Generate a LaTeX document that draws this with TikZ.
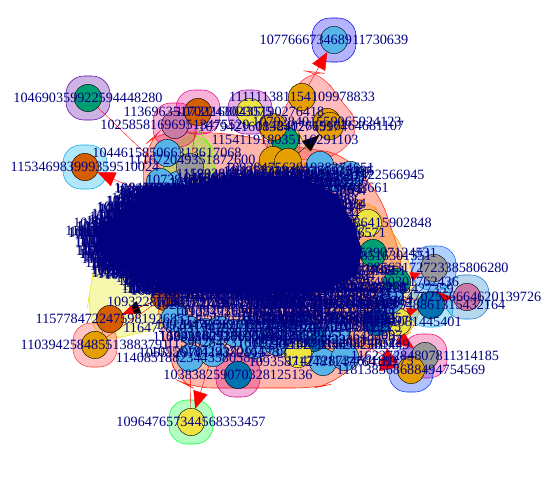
\documentclass[tikz,border=0pt]{standalone}
\usepackage{fontspec}
\setmainfont{Liberation Serif}
\usetikzlibrary{arrows.meta}
\pgfdeclarelayer{blobs}\pgfdeclarelayer{edgesl}\pgfdeclarelayer{labs}
\pgfsetlayers{blobs,edgesl,main,labs}
\definecolor{okO}{HTML}{E69F00}\definecolor{okB}{HTML}{56B4E9}\definecolor{okG}{HTML}{009E73}
\definecolor{okY}{HTML}{F0E442}\definecolor{okD}{HTML}{0072B2}\definecolor{okR}{HTML}{D55E00}
\definecolor{okM}{HTML}{CC79A7}\definecolor{okK}{HTML}{999999}\definecolor{lab}{HTML}{000080}
\tikzset{
 vtx/.style={circle,draw=black,line width=.3pt,fill=#1,minimum size=20.5pt,inner sep=0pt},
 vlab/.style={text=lab,inner sep=0pt,font=\fontsize{10.65}{12}\selectfont},
 blobn/.style={rectangle,rounded corners=13.5pt,minimum size=33pt,inner sep=0pt,draw=#1,line width=.4pt,fill=#1,fill opacity=.3},
 bigb/.style={draw=#1,line width=.4pt,fill=#1,fill opacity=.33,rounded corners=14pt},
 redline/.style={draw=red,line width=.3pt},
 redarr/.style={draw=red,line width=.3pt,-{Triangle[length=13pt,width=11pt,fill=red]}},
 redsm/.style={draw=red,line width=.3pt,-{Triangle[length=8pt,width=7pt,fill=red]}},
 blkarr/.style={draw=black,line width=.3pt,-{Triangle[length=13pt,width=10pt,fill=black]}},
 blksm/.style={draw=black,line width=.3pt,-{Triangle[length=8pt,width=6pt,fill=black]}},
}
\newcommand\VV[5]{\node[vtx=#4] (#1) at (#2,#3) {};%
 \begin{pgfonlayer}{labs}\node[vlab] (#1l) at (#2,#3) {#5};\end{pgfonlayer}}
\newcommand\VN[4]{\node[vtx=#4] (#1) at (#2,#3) {};}
\newcommand\LL[4]{\begin{pgfonlayer}{labs}\node[vlab] (#1) at (#2,#3) {#4};\end{pgfonlayer}}
\newcommand\BB[4]{\begin{pgfonlayer}{blobs}\node[blobn=#4] (#1) at (#2,#3) {};\end{pgfonlayer}}
\newcommand\digs[1]{\ifcase#1 107351189354712860934\or 115902847316620458193\or 109284756301928374651\or 113570296418853027764\or 104618273905516482097\or 118340572916634205871\or 102957318460271935486\or 111463820759104386225\fi}
\begin{document}
\begin{tikzpicture}[x=.75pt,y=-.75pt]
\useasboundingbox (0,0) rectangle (560,500);
\pgfmathsetseed{1234}
% big group outlines
\begin{pgfonlayer}{blobs}
\draw[bigb=red!75!orange] (190,132)--(235,134)--(300,148)--(342,153)--(380,195)--(402,260)--(402,320)--(357,362)--(333,384)--(313,388)--(193,388)--(177,380)--(168,350)--(160,327)--(150,230)--(142,180)--(147,143)--(160,131)--cycle;
\draw[bigb=red!80!white] (340,100)--(362,125)--(338,158)--(295,162)--(272,140)--(282,112)--(306,71)--(322,73)--cycle;
\draw[bigb=yellow!90!green] (90,290)--(87,310)--(100,342)--(165,327)--(205,290)--(150,240)--(95,262)--cycle;
\draw[bigb=orange!80!yellow] (385,222)--(405,250)--(420,295)--(418,328)--(395,342)--(345,350)--(300,345)--(330,250)--(348,205)--(368,197)--cycle;
\draw[bigb=green!60!yellow] (208,143)--(218,155)--(210,185)--(160,185)--(165,165)--(185,132)--(200,132)--cycle;
\draw[bigb=olive] (300,135)--(305,145)--(290,170)--(265,165)--(270,125)--(295,125)--cycle;
\draw[bigb=orange!90!yellow] (280,155)--(300,155)--(312,175)--(250,180)--(255,155)--cycle;
\end{pgfonlayer}
% single-member groups
\BB{ba}{88}{98}{violet!70!blue}
\BB{bb}{85}{167}{cyan}
\BB{bc}{334}{40}{blue!90!violet}
\BB{bd}{191}{422}{green!80!cyan}
\BB{be}{95}{345}{red!70!pink}
\BB{bg}{175}{125}{magenta!85!red}
\BB{bh}{198}{112}{magenta}
\BB{bj}{250}{112}{violet!70!magenta}
\BB{bs}{238}{375}{magenta!90!blue}
\BB{bm}{434}{268}{blue!60!cyan}
\BB{bn}{467}{297}{cyan!60!blue}
\BB{bo}{431}{305}{cyan}
\BB{bp}{425}{356}{magenta!80!red}
\BB{bq}{411}{370}{blue!80!cyan}
% vertices with labels
\VV{A}{88}{98}{okG}{104690359922594448280}
\VV{B}{85}{167}{okR}{115346983999359510024}
\VV{C}{334}{40}{okB}{107766673468911730639}
\VV{D}{191}{422}{okY}{109647657344568353457}
\VV{E}{95}{345}{okO}{110394258485513883791}
\VV{F}{110}{319}{okR}{115778472247598192685}
\VV{G}{175}{125}{okM}{102585816969513475520}
\VV{H}{198}{112}{okR}{113696351702243023075}
\VV{I}{167}{153}{okB}{104461585066313617068}
\VV{J}{250}{112}{okY}{107311680435190276418}
\VV{K}{302}{97}{okO}{111111381154109978833}
\VV{L}{327}{122}{okO}{107928401559065924123}
\VV{L2}{330}{126}{okO}{114230761916764681107}
\VV{K2}{285}{140}{okG}{115411918035116291103}
\VV{O2}{273}{127}{okO}{107942160838412765974}
\VV{M}{434}{268}{okK}{108563172723385806280}
\VV{N}{467}{297}{okM}{114702556664620139726}
\VV{O}{431}{305}{okD}{110973548861315432164}
\VV{P}{425}{356}{okK}{116237284807811314185}
\VV{Q}{411}{370}{okO}{118138568688494754569}
\VV{R}{323}{362}{okB}{109358712481147764183}
\VV{S}{238}{375}{okD}{103838259070328125136}
\VV{T}{190}{358}{okB}{114085188234435805811}
\VV{U}{213}{353}{okB}{105512970114382915738}
\VV{V1}{350}{175}{okB}{104178393651422566945}
\VV{V2}{368}{223}{okY}{117053286415902848}
\VV{Y1}{398}{322}{okY}{110862941081445401}
\VV{G1}{373}{253}{okG}{108124653907124531}
% further labels of the crowd at its rim
\LL{t1}{325}{188}{116540927738408661}
\LL{t2}{295}{200}{101583274966120551}
\LL{t3}{322}{233}{108837264519036571}
\LL{t4}{368}{256}{113904728516301551}
\LL{t5}{395}{282}{106728490301762436}
\LL{t6}{390}{289}{112760483915427359}
\LL{t7}{328}{340}{107615903482230109792}
\LL{t8}{346}{345}{115273840962381449}
\LL{t9}{192}{160}{111672049351872600}
\LL{t10}{210}{180}{107394516820348951}
\LL{t11}{178}{188}{108452736901254376}
\LL{t12}{175}{198}{109841263570948311}
\LL{t13}{171}{302}{109322871645092317}
\LL{t14}{187}{328}{116472860319475812}
\LL{t15}{223}{337}{108335609271000892}
\LL{t16}{215}{352}{105561842937016428}
\LL{t17}{350}{361}{114772873460189275}
% crowd vertices
\foreach \n/\x/\y/\c in {c1/190/330/okB,c2/205/332/okB,c3/220/330/okB,c4/235/333/okB,c5/250/330/okB,c6/265/332/okB,c7/280/331/okB,c8/255/345/okB,c9/277/342/okB,c10/313/338/okD,c11/337/330/okB,c12/297/318/okM,c13/298/354/okY,c14/345/357/okB,c15/377/322/okD,c16/397/282/okG,c17/390/300/okB,c18/165/297/okR,c19/178/185/okB,c20/190/167/okK,c21/273/160/okO,c22/288/162/okO,c23/320/165/okB,c24/335/178/okB,c27/160/182/okB,c28/155/197/okB,c29/175/318/okB,c30/300/328/okB}{\VN{\n}{\x}{\y}{\c}}
% connectors
\begin{pgfonlayer}{edgesl}
\draw[redline] (A)--(c19);
\draw[redarr] (c28)--(B);
\draw[redarr] (K)--(C);
\draw[redarr] (U)--(D);
\draw[redline] (F)--(E);
\draw[redline] (G)--(I);
\draw[redline] (H)--(c20);
\draw[redline] (E)--(c18);
\draw[redline] (J)--(c21);
\draw[redline] (I)--(c27);
\draw[blkarr] (c22)--(L2);
\draw[blksm] (c21)--(K2);
\draw[blksm] (K2)--(O2);
\draw[blksm] (c12)--(T);
\draw[blkarr] (c18)--(F);
\draw[redsm] (c18)--(F);
\draw[redarr] (c14)--(Q);
\draw[redarr] (c15)--(P);
\draw[redarr] (c11)--(Q);
\draw[redarr] (c17)--(N);
\draw[redsm] (c16)--(M);
\draw[redsm] (c15)--(O);
\draw[redsm] (c20)--(c27);
\draw[redline] (T)--(D);
\draw[blksm] (c19)--(c20);
\end{pgfonlayer}
% the crowd of labels
\begin{pgfonlayer}{labs}
\fill[lab] (98,232)--(118,212)--(160,192)--(230,176)--(298,176)--(337,195)--(354,225)--(362,250)--(357,275)--(325,290)--(250,294)--(185,288)--(135,273)--(100,255)--cycle;
\foreach \yy/\cl/\cr/\nn in {168/290/300/3,174/250/300/6,180/240/295/8,188/188/292/12,196/176/292/12,204/168/292/12,212/160/292/14,220/147/292/14,228/137/292/14,236/143/292/14,244/147/292/14,252/145/292/14,260/155/292/14,268/160/296/14,276/180/305/14,284/195/310/14,292/215/320/12,300/225/325/9,308/228/325/6,316/228/325/5,324/228/328/5,332/225/328/4,340/232/325/3,268/320/332/3,284/320/336/3,300/325/338/3,316/320/335/3,
 190/192/210/8,198/180/200/8,206/170/190/8,214/162/180/8,222/150/170/8,230/142/162/8,238/146/165/8,246/150/168/8,254/150/170/8,262/158/176/8,270/165/185/8,278/185/205/8,286/200/220/6}{
 \foreach \j in {1,...,\nn}{
  \pgfmathsetmacro\cx{ifthenelse(mod(\j,2)==0,\cl+rnd*rnd*(\cr-\cl),\cr-rnd*rnd*(\cr-\cl))}
  \pgfmathsetmacro\cy{\yy+rnd*5}
  \pgfmathtruncatemacro\kk{random(0,7)}
  \node[vlab] (m\yy-\cl-\j) at (\cx,\cy) {\digs{\kk}};
 }
}
\end{pgfonlayer}
\end{tikzpicture}
\end{document}
